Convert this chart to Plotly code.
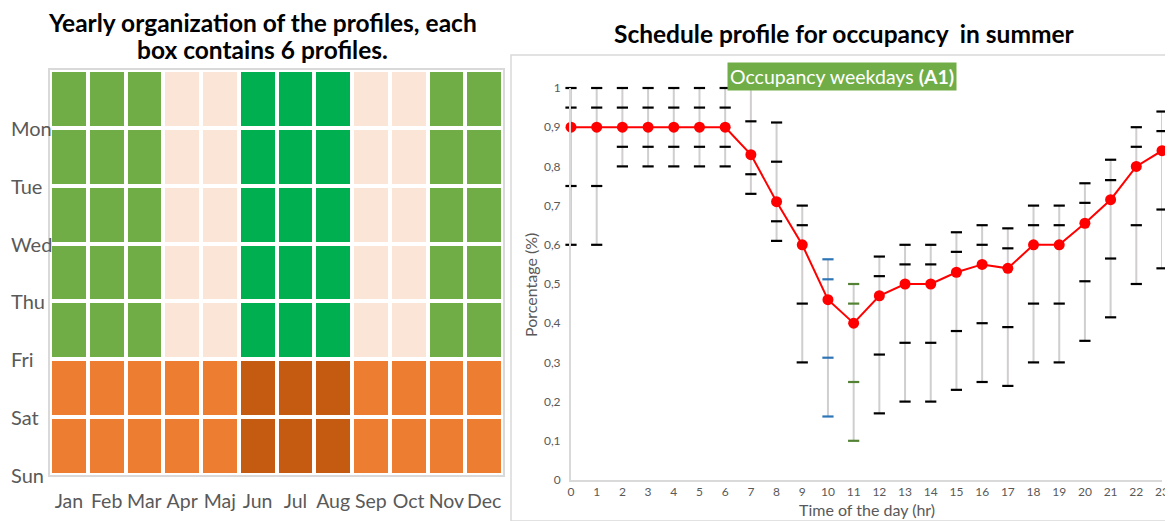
import plotly.graph_objects as go

# ---------------- data: yearly organisation ----------------
months = ["Jan", "Feb", "Mar", "Apr", "Maj", "Jun", "Jul", "Aug", "Sep", "Oct", "Nov", "Dec"]
month_season = ["winter", "winter", "winter", "mid", "mid", "summer", "summer", "summer",
                "mid", "mid", "winter", "winter"]
day_labels = ["Mon", "Tue", "Wed", "Thu", "Fri", "Sat", "Sun"]
day_type = ["weekday", "weekday", "weekday", "weekday", "weekday", "weekend", "weekend"]
profile_code = {("weekday", "winter"): 0, ("weekday", "mid"): 1, ("weekday", "summer"): 2,
                ("weekend", "winter"): 3, ("weekend", "mid"): 3, ("weekend", "summer"): 4}
profile_colors = ["#70AD47", "#FBE5D6", "#00B050", "#ED7D31", "#C55A11"]

# ---------------- data: schedule profile ----------------
hours = list(range(24))
mean_occ = [0.9, 0.9, 0.9, 0.9, 0.9, 0.9, 0.9, 0.83, 0.71, 0.6, 0.46, 0.4,
            0.47, 0.5, 0.5, 0.53, 0.55, 0.54, 0.6, 0.6, 0.655, 0.715, 0.8, 0.84]
occ_max = [1, 1, 1, 1, 1, 1, 1, 1, 0.912, 0.7, 0.563, 0.5,
           0.57, 0.6, 0.6, 0.632, 0.65, 0.642, 0.7, 0.7, 0.757, 0.817, 0.9, 0.94]
occ_upper = [0.95, 0.95, 0.95, 0.95, 0.95, 0.95, 0.95, 0.915, 0.812, 0.65, 0.512, 0.45,
             0.52, 0.55, 0.55, 0.582, 0.6, 0.591, 0.65, 0.65, 0.707, 0.765, 0.85, 0.89]
occ_lower = [0.75, 0.75, 0.85, 0.85, 0.85, 0.85, 0.85, 0.78, 0.66, 0.45, 0.312, 0.25,
             0.32, 0.35, 0.35, 0.38, 0.4, 0.39, 0.45, 0.45, 0.507, 0.565, 0.65, 0.69]
occ_min = [0.6, 0.6, 0.8, 0.8, 0.8, 0.8, 0.8, 0.73, 0.61, 0.3, 0.162, 0.1,
           0.17, 0.2, 0.2, 0.23, 0.25, 0.24, 0.3, 0.3, 0.355, 0.415, 0.5, 0.54]
tick_colors = ["#000000"] * 10 + ["#2E75B6", "#548235"] + ["#000000"] * 12

# page has an 8px body margin: figure drawn in a 1165x513 box offset by 8px
OFF = 8
W, H = 1173 - OFF, 521 - OFF
FONT = "Lato"
GRAY = "#595959"


def px(x):
    return (x - OFF) / W


def py(y):
    return 1 - (y - OFF) / H


fig = go.Figure()

# ---- heatmap ----
z = [[profile_code[(dt, s)] for s in month_season] for dt in day_type]
n = len(profile_colors) - 1
cscale = [[i / n, c] for i, c in enumerate(profile_colors)]
fig.add_trace(go.Heatmap(
    z=z, x=list(range(len(months))), y=[i + 0.5 for i in range(len(day_labels))],
    colorscale=cscale, zmin=0, zmax=n, showscale=False, xgap=4, ygap=4,
    xaxis="x", yaxis="y", hoverinfo="skip"))

# ---- schedule profile ----
seg_x, seg_y = [], []
for h, lo, hi in zip(hours, occ_min, occ_max):
    seg_x += [h, h, None]
    seg_y += [lo, hi, None]
fig.add_trace(go.Scatter(x=seg_x, y=seg_y, mode="lines",
                         line=dict(color="#D0CECE", width=2),
                         xaxis="x2", yaxis="y2", cliponaxis=False, hoverinfo="skip"))
for arr in (occ_max, occ_upper, occ_lower, occ_min):
    fig.add_trace(go.Scatter(
        x=hours, y=arr, mode="markers",
        marker=dict(symbol="line-ew", size=8, line=dict(color=tick_colors, width=2.2)),
        xaxis="x2", yaxis="y2", cliponaxis=False, hoverinfo="skip"))
fig.add_trace(go.Scatter(x=hours, y=mean_occ, mode="lines+markers",
                         line=dict(color="#FF0000", width=2),
                         marker=dict(color="#FF0000", size=11),
                         xaxis="x2", yaxis="y2", cliponaxis=False))

annotations = []
# heatmap day labels (left aligned)
for i, d in enumerate(day_labels):
    annotations.append(dict(text=d, xref="paper", yref="y", x=px(9), y=i + 1,
                            xanchor="left", yanchor="middle", showarrow=False,
                            font=dict(family=FONT, size=20, color=GRAY)))


def ann(text, x, y, size, color, **kw):
    d = dict(text=text, xref="paper", yref="paper", x=px(x), y=py(y),
             xanchor="center", yanchor="middle", showarrow=False,
             font=dict(family=FONT, size=size, color=color))
    d.update(kw)
    annotations.append(d)


ann("<b>Yearly organization of the profiles, each</b>", 262, 22, 24.5, "#000000", borderpad=0)
ann("<b>box contains 6 profiles.</b>", 262, 49, 24.5, "#000000", borderpad=0)
ann("<b>Schedule profile for occupancy  in summer</b>", 845, 33, 24.5, "#000000")
ann("Occupancy weekdays <b>(A1)</b>", 842, 76, 19.5, "#FFFFFF", bgcolor="#70AD47", borderpad=2)
ann("Porcentage (%)", 530, 285, 16, GRAY, textangle=-90)
ann("Time of the day (hr)", 867, 509, 16, GRAY)

fig.update_layout(
    width=W, height=H, autosize=False,
    margin=dict(l=0, r=0, t=0, b=0, autoexpand=False),
    paper_bgcolor="white", plot_bgcolor="white",
    showlegend=False, separators=", ",
    font=dict(family=FONT, color=GRAY),
    annotations=annotations,
    shapes=[dict(type="rect", xref="paper", yref="paper", x0=px(511), x1=px(1172),
                 y0=py(521), y1=py(55), line=dict(color="#D9D9D9", width=1.5))],
    xaxis=dict(domain=[px(50), px(503)], range=[-0.5, 11.5],
               tickvals=list(range(len(months))), ticktext=months, tickangle=0,
               showgrid=False, zeroline=False, showline=True, mirror=True,
               linecolor="#D9D9D9", linewidth=1.5, ticks="", ticklabelstandoff=8,
               automargin=False,
               tickfont=dict(family=FONT, size=19.5, color=GRAY)),
    yaxis=dict(domain=[py(475), py(70)], range=[7, 0], showticklabels=False,
               showgrid=False, zeroline=False, showline=True, mirror=True,
               linecolor="#D9D9D9", linewidth=1.5, ticks="", automargin=False),
    xaxis2=dict(domain=[px(571), px(1162)], range=[0, 23], tickvals=hours,
                showgrid=False, zeroline=False, showline=True, linecolor="#D9D9D9",
                linewidth=2, ticks="", anchor="y2", automargin=False,
                tickfont=dict(family=FONT, size=12, color=GRAY)),
    yaxis2=dict(domain=[py(480), py(88)], range=[0, 1], dtick=0.1,
                showgrid=False, zeroline=False, showline=True, linecolor="#D9D9D9",
                linewidth=2, ticks="", anchor="x2", ticklabelstandoff=6, automargin=False,
                tickfont=dict(family=FONT, size=12, color=GRAY)),
)

fig.write_html("out.html")
